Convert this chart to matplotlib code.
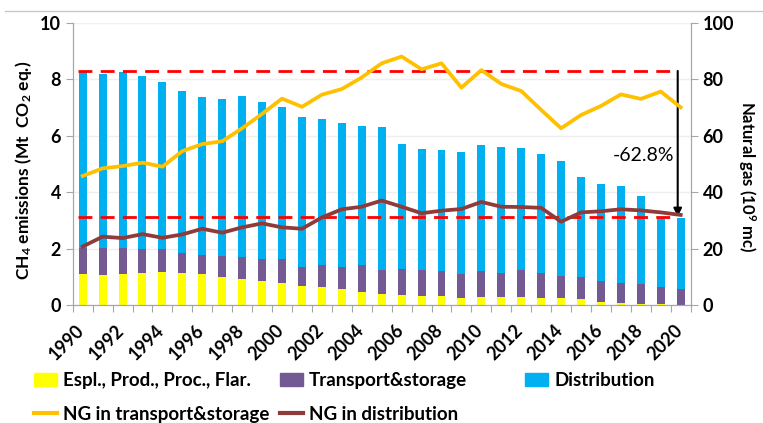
import numpy as np
import matplotlib
matplotlib.use('Agg')
import matplotlib.pyplot as plt
from matplotlib.lines import Line2D
from matplotlib.patches import Patch

plt.rcParams['font.family'] = ['Lato', 'DejaVu Sans']
plt.rcParams['font.weight'] = 'bold'
plt.rcParams['mathtext.fontset'] = 'custom'
plt.rcParams['mathtext.rm'] = 'Lato:bold'
plt.rcParams['mathtext.bf'] = 'Lato:bold'
plt.rcParams['mathtext.default'] = 'rm'

# Data
years = list(range(1990, 2021))
# cumulative tops of the stacked bars (Mt CO2 eq.)
total = [8.26, 8.19, 8.24, 8.11, 7.91, 7.58, 7.38, 7.30, 7.39, 7.20, 7.02,
         6.65, 6.59, 6.46, 6.33, 6.29, 5.70, 5.53, 5.49, 5.42, 5.66, 5.61,
         5.56, 5.34, 5.09, 4.52, 4.30, 4.21, 3.86, 3.12, 3.09]
upstream_top = [1.10, 1.07, 1.10, 1.15, 1.18, 1.12, 1.09, 0.98, 0.93, 0.85, 0.77,
                0.68, 0.63, 0.57, 0.47, 0.40, 0.37, 0.33, 0.31, 0.26, 0.30, 0.30,
                0.30, 0.26, 0.24, 0.21, 0.11, 0.07, 0.05, 0.04, 0.01]
transport_top = [2.03, 2.03, 2.03, 1.97, 2.00, 1.84, 1.76, 1.75, 1.70, 1.63, 1.62,
                 1.35, 1.40, 1.35, 1.43, 1.24, 1.29, 1.25, 1.20, 1.10, 1.20, 1.13,
                 1.25, 1.12, 1.03, 0.98, 0.85, 0.78, 0.74, 0.63, 0.57]
# natural gas (10^9 mc)
ng_transport = [45.7, 48.4, 49.2, 50.4, 49.0, 54.5, 57.0, 58.0, 62.6, 67.7, 73.1,
                70.2, 74.5, 76.5, 80.6, 85.6, 88.0, 83.5, 85.6, 77.0, 83.2, 78.3,
                75.8, 69.1, 62.6, 67.3, 70.5, 74.6, 73.0, 75.6, 70.0]
ng_distribution = [20.7, 24.2, 23.7, 25.1, 23.8, 25.0, 27.0, 25.6, 27.5, 28.9, 27.5,
                   27.0, 31.0, 33.9, 34.8, 37.0, 34.8, 32.5, 33.4, 34.0, 36.5, 34.8,
                   34.7, 34.4, 29.5, 32.8, 33.2, 33.9, 33.5, 32.8, 31.9]
ref_high = 8.29
ref_low = 3.13
change_label = '-62.8%'

upstream = np.array(upstream_top)
transport = np.array(transport_top) - upstream
distribution = np.array(total) - np.array(transport_top)

c_yellow = '#FFFF00'
c_purple = '#735A93'
c_blue = '#00B0F0'
c_orange = '#FFC000'
c_brown = '#8E3B3A'
c_axis = '#A6A6A6'

fig = plt.figure(figsize=(7.63, 4.23), dpi=100)
ax = fig.add_axes([0.0953, 0.279, 0.8099, 0.6674])
ax2 = ax.twinx()

x = np.arange(len(years))
w = 0.4
ax.bar(x, upstream, w, color=c_yellow, zorder=2)
ax.bar(x, transport, w, bottom=upstream, color=c_purple, zorder=2)
ax.bar(x, distribution, w, bottom=np.array(transport_top), color=c_blue, zorder=2)

ax.set_xlim(-0.5, len(years) - 0.5)
ax.set_ylim(0, 10)
ax.set_yticks(range(0, 11, 2))
ax.grid(axis='y', color='#EFEFEF', linewidth=1, zorder=0)
ax.set_axisbelow(True)

# dashed reference lines and arrow
ax.hlines([ref_high, ref_low], -0.23, 29.85, colors='#FF0000',
          linestyles=(0, (5, 3)), linewidth=2, zorder=4)
ax.annotate('', xy=(29.85, ref_low), xytext=(29.85, ref_high),
            arrowprops=dict(arrowstyle='-|>', color='black', lw=1.5,
                            mutation_scale=12, shrinkA=0, shrinkB=0), zorder=5)
ax.text(29.7, 5.3, change_label, ha='right', va='center', fontsize=14,
        fontweight='normal', zorder=6)

ax2.plot(x, ng_transport, color=c_orange, linewidth=2.7, zorder=3)
ax2.plot(x, ng_distribution, color=c_brown, linewidth=2.7, zorder=3)
ax2.set_ylim(0, 100)
ax2.set_yticks(range(0, 101, 20))

# x ticks: marks between categories, rotated year labels every 2 years
ax.set_xticks(np.arange(-0.5, len(years)))
ax.set_xticklabels([])
ax.tick_params(axis='x', length=5, color=c_axis)
for xi, yr in zip(x[::2], years[::2]):
    ax.annotate(str(yr), xy=(xi, 0), xycoords=('data', 'axes fraction'),
                xytext=(-0.7, -16.5), textcoords='offset points',
                rotation=45, rotation_mode='anchor', ha='right', va='center',
                fontsize=13, fontweight='bold', annotation_clip=False)

ax.tick_params(axis='y', length=5, color=c_axis, labelsize=13)
ax2.tick_params(axis='y', length=5, color=c_axis, labelsize=13)
for a in (ax, ax2):
    for lab in a.get_yticklabels():
        lab.set_fontweight('bold')
    a.spines['top'].set_visible(False)
    for s in ('left', 'right', 'bottom'):
        a.spines[s].set_color(c_axis)

ax.set_ylabel(r'CH$_{4}$ emissions (Mt  CO$_{2}$ eq.)', fontsize=12.5,
              fontweight='bold')
ax.yaxis.set_label_coords(-0.0796, 0.478)
ax2.set_ylabel(r'Natural gas (10$^{9}$ mc)', fontsize=12, fontweight='bold',
               rotation=270)
ax2.yaxis.set_label_coords(1.091, 0.453)
for lab in (ax.yaxis.label, ax2.yaxis.label):
    lab.set_rotation_mode('anchor')
    lab.set_ha('center')
    lab.set_va('center')

# legend: three equally spaced columns like the original
legend_cols = [
    ([Patch(color=c_yellow), Line2D([], [], color=c_orange, lw=3)],
     ['Espl., Prod., Proc., Flar.', 'NG in transport&storage'], 0.044),
    ([Patch(color=c_purple), Line2D([], [], color=c_brown, lw=3)],
     ['Transport&storage', 'NG in distribution'], 0.367),
    ([Patch(color=c_blue)], ['Distribution'], 0.688),
]
for hs, ls, x0 in legend_cols:
    fig.legend(hs, ls, loc='upper left', bbox_to_anchor=(x0, 0.121),
               frameon=False, prop={'weight': 'bold', 'size': 13.5},
               handlelength=1.25, handleheight=0.7, handletextpad=0.3,
               labelspacing=0.9, borderaxespad=0, borderpad=0)

# thin separator line at the top of the picture
fig.add_artist(Line2D([0.007, 1.0], [0.974, 0.974], color='#C8C8C8', lw=1))

fig.savefig('out.png', dpi=100)
